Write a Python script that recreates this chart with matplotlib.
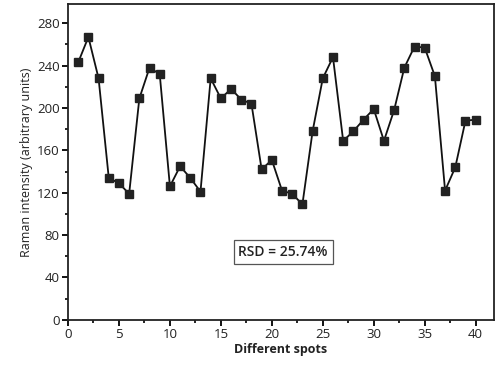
import matplotlib.pyplot as plt
from matplotlib.ticker import MultipleLocator

plt.rcParams['font.family'] = ['Open Sans', 'DejaVu Sans']

spots = list(range(1, 41))
intensity = [243, 267, 228, 134, 129, 119, 209, 238, 232, 126,
             145, 134, 121, 228, 209, 218, 208, 204, 142, 151,
             122, 119, 109, 178, 228, 248, 169, 178, 189, 199,
             169, 198, 238, 258, 257, 230, 122, 144, 188, 189]

fig = plt.figure(figsize=(5, 3.79), dpi=100)
ax = fig.add_axes([0.136, 0.156, 0.852, 0.833])

ax.plot(spots, intensity, color='#111111', lw=1.3, marker='s', ms=5.5,
        markerfacecolor='#222222', markeredgecolor='#222222')

ax.set_xlim(0, 41.8)
ax.set_ylim(0, 298)
ax.xaxis.set_major_locator(MultipleLocator(5))
ax.xaxis.set_minor_locator(MultipleLocator(2.5))
ax.yaxis.set_major_locator(MultipleLocator(40))
ax.yaxis.set_minor_locator(MultipleLocator(20))
ax.tick_params(which='major', direction='out', length=4, width=1.3, labelsize=9.5, pad=2,
               labelcolor='#222222')
ax.tick_params(which='minor', direction='out', length=2.5, width=1.2)
for s in ax.spines.values():
    s.set_linewidth(1.3)
    s.set_color('#222222')

ax.set_xlabel('Different spots', fontsize=9, fontweight='bold', labelpad=1, color='#222222')
ax.set_ylabel('Raman intensity (arbitrary units)', fontsize=9, labelpad=3, color='#222222')

ax.text(0.505, 0.215, 'RSD = 25.74%', transform=ax.transAxes, ha='center', va='center',
        fontsize=10, fontweight='semibold', color='#222222',
        bbox=dict(boxstyle='square,pad=0.35', facecolor='white', edgecolor='#555555', lw=0.9))

fig.savefig('out.png', dpi=100)
